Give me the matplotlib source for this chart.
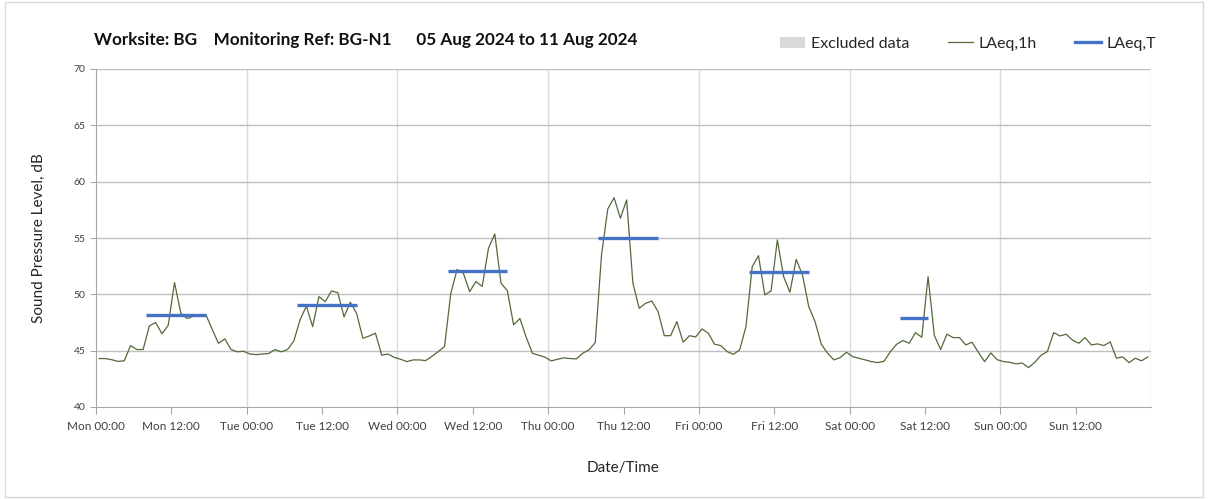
import numpy as np
import matplotlib
matplotlib.use('Agg')
import matplotlib.pyplot as plt
from matplotlib.patches import Patch, Rectangle
from matplotlib.lines import Line2D

plt.rcParams['font.family'] = ['Lato', 'DejaVu Sans']

# hourly LAeq,1h values, Mon 00:00 .. Sun 23:00 (plotted at mid-hour)
laeq_1h = [
    44.3, 44.3, 44.2, 44.05, 44.1, 45.45, 45.1, 45.1, 47.2, 47.5,
    46.5, 47.25, 51.05, 48.35, 47.85, 48.05, 48.2, 48.2, 46.9, 45.65,
    46.05, 45.1, 44.9, 44.95, 44.7, 44.65, 44.7, 44.75, 45.1, 44.9,
    45.1, 45.85, 47.75, 48.95, 47.13, 49.8, 49.35, 50.3, 50.15, 48.0,
    49.3, 48.3, 46.1, 46.3, 46.55, 44.6, 44.7, 44.4, 44.24, 44.03,
    44.18, 44.18, 44.12, 44.5, 44.92, 45.36, 50.1, 52.2, 51.87, 50.24,
    51.13, 50.7, 54.09, 55.36, 50.98, 50.33, 47.29, 47.85, 46.2, 44.77,
    44.6, 44.42, 44.09, 44.24, 44.36, 44.3, 44.27, 44.77, 45.07, 45.71,
    53.5, 57.58, 58.58, 56.75, 58.38, 50.98, 48.76, 49.2, 49.41, 48.47,
    46.33, 46.33, 47.58, 45.75, 46.33, 46.22, 46.93, 46.55, 45.57, 45.45,
    44.92, 44.68, 45.07, 47.13, 52.46, 53.43, 49.95, 50.3, 54.83, 51.57,
    50.19, 53.11, 51.72, 48.91, 47.58, 45.57, 44.77, 44.18, 44.38, 44.86,
    44.47, 44.33, 44.18, 44.03, 43.94, 44.06, 44.92, 45.57, 45.9, 45.66,
    46.6, 46.19, 51.57, 46.35, 45.1, 46.46, 46.16, 46.16, 45.51, 45.75,
    44.86, 44.03, 44.8, 44.2, 44.03, 43.97, 43.83, 43.9, 43.5, 43.97,
    44.6, 44.92, 46.6, 46.31, 46.46, 45.93, 45.66, 46.16, 45.51, 45.6,
    45.45, 45.78, 44.33, 44.45, 43.94, 44.33, 44.1, 44.45,
]

# LAeq,T for each working period (hours from Mon 00:00)
period_start = [8, 32, 56, 80, 104, 128]
period_end = [17.5, 41.5, 65.5, 89.5, 113.5, 132.5]
laeq_t = [48.2, 49.05, 52.1, 55.0, 51.95, 47.9]

excluded = []  # no excluded periods this week

days = ['Mon', 'Tue', 'Wed', 'Thu', 'Fri', 'Sat', 'Sun']
tick_labels = [f'{d} {h}' for d in days for h in ('00:00', '12:00')]

hours = np.arange(len(laeq_1h)) + 0.5

fig = plt.figure(figsize=(12.08, 4.99), dpi=100)
ax = fig.add_axes([96/1208, 1-407/499, (1151-96)/1208, (407-69)/499])

for s, e in excluded:
    ax.axvspan(s, e, color='#d9d9d9', lw=0)

ax.plot(hours, laeq_1h, color='#53693a', lw=0.9)
ax.hlines(laeq_t, period_start, period_end, color='#4472c4', lw=2.4)

ax.set_xlim(0, 168)
ax.set_ylim(40, 70)
ax.set_xticks(np.arange(0, 168, 12))
ax.set_xticklabels(tick_labels, fontsize=8.5, color='#404040')
ax.set_yticks(np.arange(40, 71, 5))
ax.tick_params(axis='y', labelsize=7.5, labelcolor='#404040', length=4, color='#a6a6a6')
ax.tick_params(axis='x', length=5, color='#a6a6a6', pad=5)
ax.minorticks_off()

for d in range(24, 169, 24):
    ax.axvline(d, color='#d9d9d9', lw=1, zorder=0)
for v in range(45, 71, 5):
    ax.axhline(v, color='#bfbfbf', lw=1, zorder=0)

for side in ('top', 'right'):
    ax.spines[side].set_visible(False)
for side in ('left', 'bottom'):
    ax.spines[side].set_color('#a6a6a6')

ax.set_ylabel('Sound Pressure Level, dB', fontsize=11, color='#262626', labelpad=20)
ax.set_xlabel('Date/Time', fontsize=11, color='#262626', labelpad=21)

fig.text(94/1208, 1-40/499, 'Worksite: BG    Monitoring Ref: BG-N1      05 Aug 2024 to 11 Aug 2024',
         fontsize=12.3, fontweight='bold', va='center', ha='left', color='#111111')

handles = [Patch(facecolor='#d9d9d9', edgecolor='none'),
           Line2D([], [], color='#53693a', lw=0.9),
           Line2D([], [], color='#4472c4', lw=2.4)]
fig.legend(handles, ['Excluded data', 'LAeq,1h', 'LAeq,T'], loc='center',
           bbox_to_anchor=(968/1208, 1-44/499), ncol=3, frameon=False, fontsize=11.5,
           handlelength=1.6, handletextpad=0.35, columnspacing=2.4, labelcolor='#262626')

fig.patches.append(Rectangle((0.004, 0.004), 0.992, 0.992, transform=fig.transFigure,
                             fill=False, edgecolor='#d9d9d9', lw=1))

fig.savefig('out.png', dpi=100)
